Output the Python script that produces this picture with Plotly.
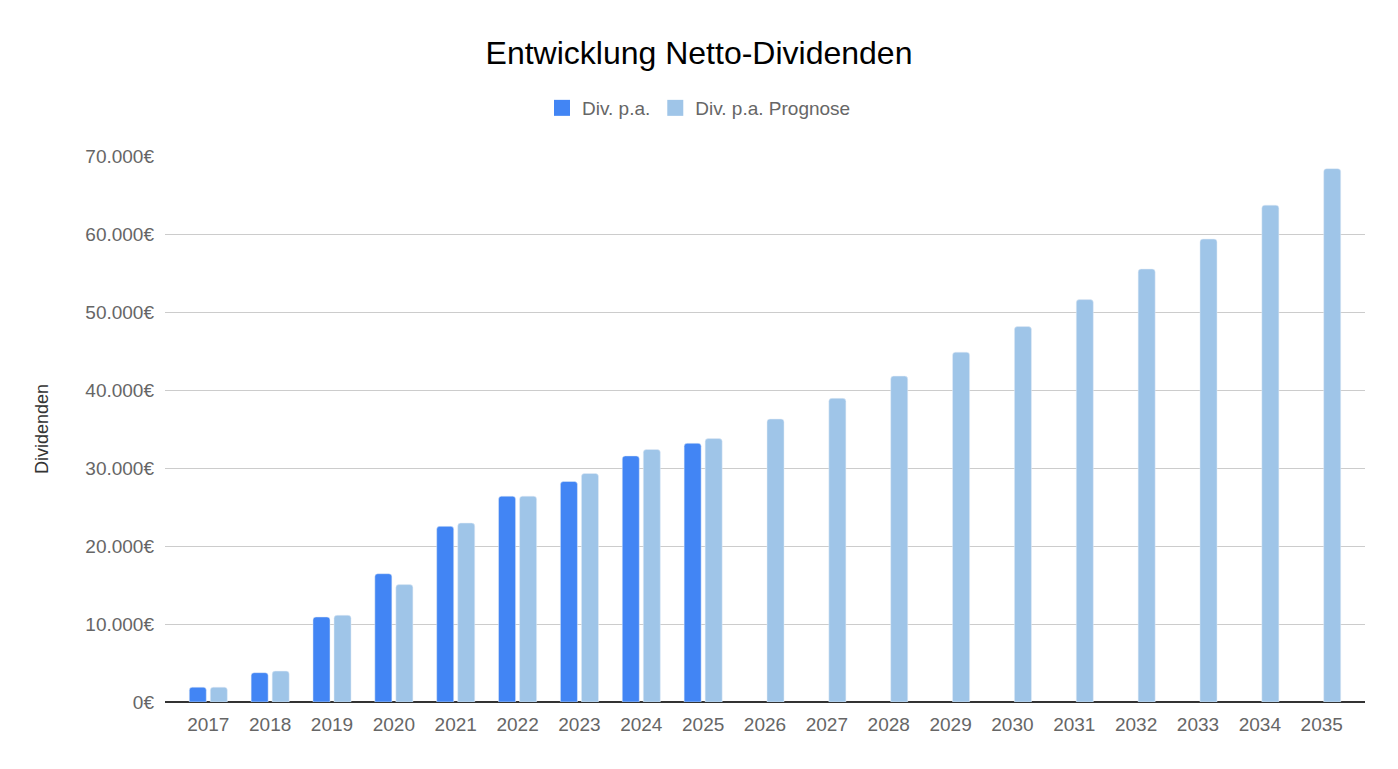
import plotly.graph_objects as go

years = ["2017", "2018", "2019", "2020", "2021", "2022", "2023", "2024", "2025",
         "2026", "2027", "2028", "2029", "2030", "2031", "2032", "2033", "2034", "2035"]
div_pa = [1900, 3760, 10900, 16450, 22520, 26390, 28270, 31550, 33170,
          None, None, None, None, None, None, None, None, None, None]
div_prognose = [1900, 3960, 11120, 15050, 22940, 26390, 29300, 32370, 33770,
                36280, 38930, 41780, 44850, 48130, 51590, 55510, 59350, 63700, 68380]
series_names = ["Div. p.a.", "Div. p.a. Prognose"]
series_colors = ["#4285F4", "#9FC5E8"]

FONT = "Liberation Sans, Arial, sans-serif"
W, H = 1382, 753  # page has 8px body margin

fig = go.Figure()
for name, vals, col in zip(series_names, [div_pa, div_prognose], series_colors):
    fig.add_trace(go.Bar(x=years, y=vals, name=name, legendgroup=name, showlegend=False,
                         marker=dict(color=col, cornerradius=3)))
# legend entries with larger square swatches
for name, col in zip(series_names, series_colors):
    fig.add_trace(go.Scatter(x=[None], y=[None], mode="markers", name=name, legendgroup=name,
                             marker=dict(symbol="square", size=16, color=col),
                             hoverinfo="skip"))

fig.update_layout(
    width=W, height=H,
    paper_bgcolor="white", plot_bgcolor="white",
    font=dict(family=FONT, size=19, color="#666666"),
    separators=",.",
    barmode="group", bargap=0.32, bargroupgap=0.19,
    margin=dict(l=157, r=25, t=148, b=59),
    title=dict(text="Entwicklung Netto-Dividenden", xref="container", x=0.5, xanchor="center",
               yref="container", y=1 - 45 / H, yanchor="middle",
               font=dict(family=FONT, size=32, color="#000000")),
    legend=dict(orientation="h", xref="container", x=0.5, xanchor="center",
                yref="container", y=1 - 100 / H, yanchor="middle",
                font=dict(family=FONT, size=19, color="#666666"),
                itemsizing="trace", itemwidth=30, traceorder="normal"),
    showlegend=True,
)
fig.update_xaxes(range=[-0.7, 18.7], showgrid=False, ticks="", showline=False,
                 ticklabelstandoff=9,
                 tickfont=dict(size=19, color="#666666"))
fig.update_yaxes(range=[0, 70000], dtick=10000, tickformat=",.0f", ticksuffix="€",
                 showgrid=True, gridcolor="#cccccc", gridwidth=1,
                 zeroline=True, zerolinecolor="#333333", zerolinewidth=1.5,
                 ticklabelstandoff=10,
                 tickfont=dict(size=19, color="#666666"),
                 title=dict(text="Dividenden", standoff=32,
                            font=dict(size=18, color="#333333")))

fig.write_html("out.html")
